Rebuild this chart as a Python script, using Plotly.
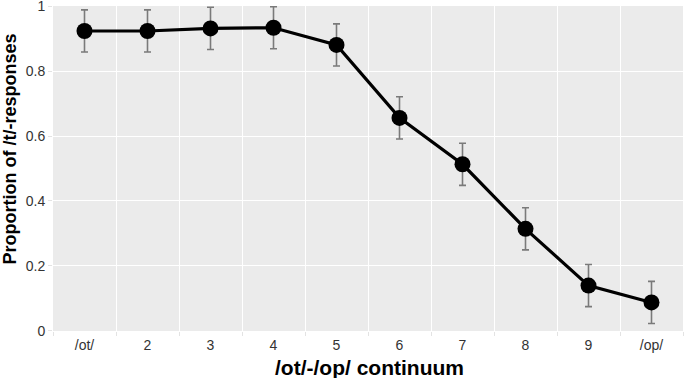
import plotly.graph_objects as go

categories = ["/ot/", "2", "3", "4", "5", "6", "7", "8", "9", "/op/"]
proportion = [0.924, 0.924, 0.932, 0.934, 0.881, 0.656, 0.513, 0.314, 0.139, 0.087]
error = [0.065, 0.065, 0.065, 0.065, 0.065, 0.065, 0.065, 0.065, 0.065, 0.065]
y_ticks = [0, 0.2, 0.4, 0.6, 0.8, 1]
y_tick_labels = ["0", "0.2", "0.4", "0.6", "0.8", "1"]
x_title = "/ot/-/op/ continuum"
y_title = "Proportion of /t/-responses"

fig = go.Figure()
fig.add_trace(go.Scatter(
    x=categories, y=proportion,
    mode="lines+markers",
    line=dict(color="black", width=3.2),
    marker=dict(color="black", size=16),
    error_y=dict(type="data", array=error, visible=True,
                 color="#7a7a7a", thickness=1.6, width=3.5),
    cliponaxis=False,
    showlegend=False,
))

fig.update_layout(
    width=685, height=378,
    margin=dict(l=53, r=2, t=6, b=47),
    paper_bgcolor="white",
    plot_bgcolor="#EBEBEB",
    font=dict(family="Liberation Sans, Arial, sans-serif", size=14, color="#333333"),
    xaxis=dict(
        type="category",
        tickson="boundaries",
        ticks="outside", ticklen=4, tickcolor="#e3e3e3", tickwidth=1,
        showgrid=True, gridcolor="white", gridwidth=1.3,
        zeroline=False, showline=False,
        tickfont=dict(size=14, color="#333333"),
        ticklabelstandoff=4,
        automargin=False,
        range=[-0.5, 9.5],
    ),
    yaxis=dict(
        range=[-0.001, 1.001],
        tickvals=y_ticks, ticktext=y_tick_labels,
        ticks="outside", ticklen=4, tickcolor="#e3e3e3", tickwidth=1,
        showgrid=True, gridcolor="white", gridwidth=1.3,
        zeroline=False, showline=False,
        tickfont=dict(size=14, color="#333333"),
        ticklabeloverflow="allow",
        automargin=False,
    ),
    annotations=[
        dict(text="<b>" + x_title + "</b>", xref="paper", yref="paper",
             x=0.503, y=-0.113, xanchor="center", yanchor="middle",
             showarrow=False, font=dict(size=21, color="black")),
        dict(text="<b>" + y_title + "</b>", xref="paper", yref="paper",
             x=-0.069, y=0.56, xanchor="center", yanchor="middle",
             textangle=-90, showarrow=False, font=dict(size=18, color="black")),
    ],
)

fig.write_html("out.html",
               config={"displayModeBar": False},
               post_script="document.body.style.margin='0';document.body.style.overflow='hidden';")
